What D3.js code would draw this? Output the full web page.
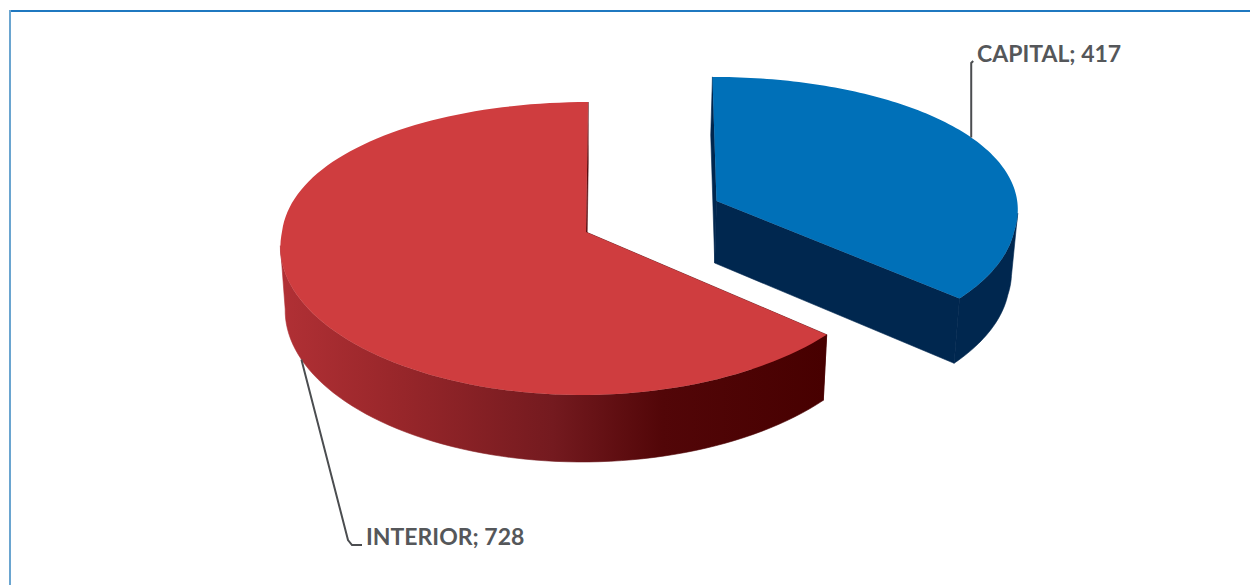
<!DOCTYPE html>
<html>
<head>
<meta charset="utf-8">
<script src="https://cdnjs.cloudflare.com/ajax/libs/d3/7.8.5/d3.min.js"></script>
<style>
  html, body { margin: 0; padding: 0; background: #fff; }
  svg { display: block; }
  .label { font-family: Lato, "Open Sans", sans-serif; font-size: 23px; font-weight: 700; fill: #55575a; }
</style>
</head>
<body>
<svg id="chart" width="1250" height="585"></svg>
<script>
const categories = ["CAPITAL", "INTERIOR"];
const values = [417, 728];
const explode = [0.475, 0];
const leaderAt = [0.465, 0.5];
const topColors = ["#0070b8", "#cf3d3f"];
const wallColors = ["#00274f", "url(#interiorWall)"];

// Projection of the tilted disc: unit-disc coordinates to screen pixels.
const view = { ax: 586, ay: 232, rx: 304, ry: 144.6, ky: 0.1127, kxFront: 0.09, kxBack: 0.05, vx: 630, explodeTilt: 1.12 };
const drop = yf => 63 + 4 * yf;
function topPoint(x, yf) {
  const sy = 1 / (1 - view.ky * yf);
  const sx = 1 / (1 - (yf > 0 ? view.kxFront : view.kxBack) * yf);
  return [view.vx + (view.ax - view.vx + view.rx * x) * sx, view.ay + view.ry * yf * sy];
}
function bottomPoint(x, yf) {
  const [px, py] = topPoint(x, yf);
  return [600 + (px - 600) * 0.985, py + drop(yf)];
}

const svg = d3.select("#chart");
const line = d3.line();

// Rim shading of the larger slice, left to right.
const grad = svg.append("defs").append("linearGradient")
  .attr("id", "interiorWall").attr("gradientUnits", "userSpaceOnUse")
  .attr("x1", 280).attr("x2", 826).attr("y1", 0).attr("y2", 0);
[[0, "#b13035"], [0.2, "#9a272b"], [0.5, "#741a1f"], [0.7, "#520608"], [1, "#470000"]]
  .forEach(([o, c]) => grad.append("stop").attr("offset", o).attr("stop-color", c));

// Chart frame: top and left rules only.
svg.append("line").attr("x1", 9).attr("x2", 1250).attr("y1", 11).attr("y2", 11)
  .attr("stroke", "#1f78c0").attr("stroke-width", 2);
svg.append("line").attr("x1", 10).attr("x2", 10).attr("y1", 10).attr("y2", 585)
  .attr("stroke", "#6aa5d0").attr("stroke-width", 2);

const pie = d3.pie().sort(null).value(d => d)(values);

pie.forEach((slice, i) => {
  const mid = (slice.startAngle + slice.endAngle) / 2;
  const ox = explode[i] * Math.sin(mid), oy = -explode[i] * Math.cos(mid) * view.explodeTilt;
  const span = slice.endAngle - slice.startAngle;
  const angles = d3.range(0, 121).map(t => slice.startAngle + span * t / 120);
  const unit = a => [ox + Math.sin(a), oy - Math.cos(a)];
  const top = a => topPoint(...unit(a));
  const bot = a => bottomPoint(...unit(a));
  const apexTop = topPoint(ox, oy), apexBot = bottomPoint(ox, oy);
  const sideColor = i === 0 ? wallColors[0] : "#5a0d10";

  const g = svg.append("g").attr("class", "slice");
  // Radial walls first, so the rim and top face cover whatever is hidden.
  [slice.endAngle, slice.startAngle].forEach(a => {
    g.append("path").attr("fill", sideColor).attr("stroke", sideColor).attr("stroke-width", 0.6)
      .attr("d", line([top(a), apexTop, apexBot, bot(a)]) + "Z");
  });
  // Outer rim, only its camera-facing part.
  const rim = angles.filter(a => -Math.cos(a) > 0.08);
  g.append("path").attr("fill", wallColors[i]).attr("stroke", wallColors[i]).attr("stroke-width", 0.6)
    .attr("d", line(rim.map(top).concat(rim.slice().reverse().map(bot))) + "Z");
  // Top face.
  g.append("path").attr("fill", topColors[i])
    .attr("d", line([apexTop].concat(angles.map(top))) + "Z");

  // Leader line from a point on the slice's rim out to its label.
  const at = slice.startAngle + span * leaderAt[i];
  const anchor = i === 0 ? top(at) : bot(at);
  const leader = i === 0
    ? [anchor, [anchor[0], 63], [anchor[0] + 2, 61]]
    : [anchor, [348, 540], [352, 545], [362, 545]];
  svg.append("path").attr("fill", "none").attr("stroke", "#4b4d50").attr("stroke-width", 2)
    .attr("d", line(leader));
  svg.append("text").attr("class", "label")
    .attr("x", i === 0 ? 977 : 366).attr("y", i === 0 ? 62 : 545)
    .text(`${categories[i]}; ${values[i]}`);
});
</script>
</body>
</html>
